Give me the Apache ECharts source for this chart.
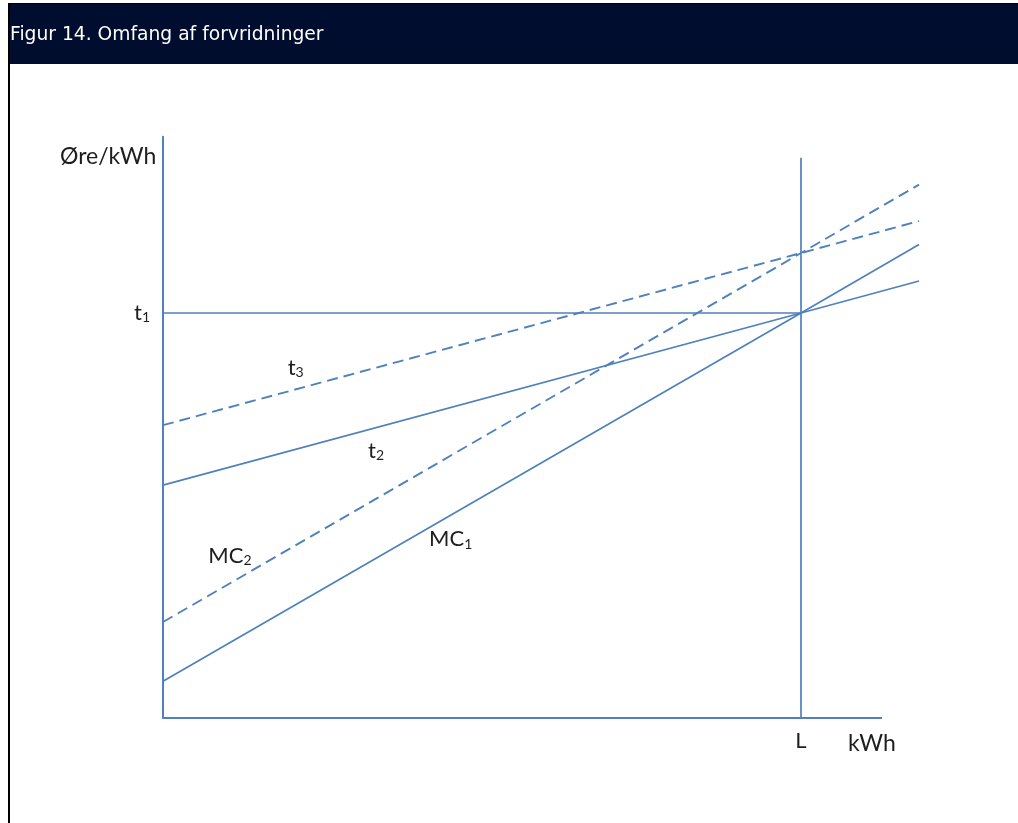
<!DOCTYPE html>
<html>
<head>
<meta charset="utf-8">
<script src="https://cdn.jsdelivr.net/npm/echarts@6/dist/echarts.min.js"></script>
<style>
html,body{margin:0;padding:0;background:#fff;}
#chart{width:1018px;height:823px;}
</style>
</head>
<body>
<div id="chart"></div>
<script>
// x positions (kWh units, L = 100) and curve values (øre/kWh, t1 = 100)
var xPoints = [0, 100, 118.5];
var mc1 = [9.1, 100, 116.9];
var t2  = [57.5, 100, 107.9];
var mc2 = [23.7, 114.8, 131.7];
var t3  = [72.3, 114.8, 122.7];
var t1Level = 100;
var lQuantity = 100;
var lTop = 138.3;
var xAxisEnd = 112.7;
var xAxisMax = 120;
var yAxisMax = 143.5;

var curveLabels = [
  {name: 'MC', sub: '1', x: 45.1, y: 44.0},
  {name: 'MC', sub: '2', x: 10.5, y: 40.0},
  {name: 't',  sub: '2', x: 33.4, y: 65.9},
  {name: 't',  sub: '3', x: 20.8, y: 86.4}
];

function pairs(xs, ys){ return xs.map(function(x,i){ return [x, ys[i]]; }); }

var blue = '#4f81bd';
var textColor = '#1e1e1e';
var labelFont = 'Lato, "Open Sans", sans-serif';
var richStyles = {
  m: {fontSize: 22, fontFamily: labelFont, color: textColor, textBorderWidth: 0},
  s: {fontSize: 14, fontFamily: labelFont, color: textColor, textBorderWidth: 0, padding: [10, 0, 0, 0]}
};

var chart = echarts.init(document.getElementById('chart'));
var option = {
  animation: false,
  backgroundColor: '#fff',
  title: {
    text: 'Figur 14. Omfang af forvridninger',
    left: 10, top: 26, padding: 0,
    textStyle: {color: '#ffffff', fontFamily: '"DejaVu Sans", Verdana, sans-serif', fontSize: 18.7, fontWeight: 'normal'}
  },
  graphic: [
    {type: 'rect', z: -10, shape: {x: 8, y: 3, width: 1010, height: 61}, style: {fill: '#000d2e'}},
    {type: 'rect', z: -9, shape: {x: 8, y: 3, width: 1010, height: 1}, style: {fill: '#000000'}},
    {type: 'rect', z: -9, shape: {x: 8, y: 3, width: 2, height: 820}, style: {fill: '#000000'}},
    {type: 'text', left: 60, top: 145, style: {text: 'Øre/kWh', font: '23px ' + labelFont, fill: textColor}},
    {type: 'text', left: 848, top: 732, style: {text: 'kWh', font: '23px ' + labelFont, fill: textColor}}
  ],
  grid: {left: 163, top: 136.8, width: 765.6, bottom: 105, containLabel: false},
  xAxis: {
    type: 'value', min: 0, max: xAxisMax,
    axisLine: {show: false},
    axisTick: {show: false},
    splitLine: {show: false},
    axisLabel: {
      show: true, margin: 12,
      customValues: [lQuantity],
      formatter: function(v){ return v === lQuantity ? 'L' : ''; },
      color: textColor, fontSize: 22, fontFamily: labelFont
    }
  },
  yAxis: {
    type: 'value', min: 0, max: yAxisMax,
    axisLine: {show: true, lineStyle: {color: blue, width: 2}},
    axisTick: {show: false},
    splitLine: {show: false},
    axisLabel: {
      show: true, margin: 13,
      customValues: [t1Level],
      formatter: function(v){ return v === t1Level ? '{m|t}{s|1}' : ''; },
      rich: richStyles
    }
  },
  series: [
    {type: 'line', name: 'x-axis', data: [[0, 0], [xAxisEnd, 0]], symbol: 'none',
      lineStyle: {color: blue, width: 2}},
    {type: 'line', name: 'MC1', data: pairs(xPoints, mc1), symbol: 'none',
      lineStyle: {color: blue, width: 1.7}},
    {type: 'line', name: 't2', data: pairs(xPoints, t2), symbol: 'none',
      lineStyle: {color: blue, width: 1.7}},
    {type: 'line', name: 'MC2', data: pairs(xPoints, mc2), symbol: 'none',
      lineStyle: {color: blue, width: 1.9, type: [11, 6]}},
    {type: 'line', name: 't3', data: pairs(xPoints, t3), symbol: 'none',
      lineStyle: {color: blue, width: 1.9, type: [11, 6]}},
    {type: 'line', name: 't1', data: [[0, t1Level], [lQuantity, t1Level]], symbol: 'none',
      lineStyle: {color: blue, width: 1.7}},
    {type: 'line', name: 'L', data: [[lQuantity, 0], [lQuantity, lTop]], symbol: 'none',
      lineStyle: {color: blue, width: 1.7}},
    {type: 'scatter', name: 'labels', symbolSize: 1, silent: true,
      itemStyle: {color: 'rgba(0,0,0,0)'},
      data: curveLabels.map(function(d){ return {value: [d.x, d.y], name: d.name, sub: d.sub}; }),
      label: {
        show: true, position: 'top', distance: -12, align: 'center',
        color: textColor, opacity: 1,
        formatter: function(p){ return '{m|' + p.data.name + '}{s|' + p.data.sub + '}'; },
        rich: richStyles
      }
    }
  ]
};
chart.setOption(option);
</script>
</body>
</html>
